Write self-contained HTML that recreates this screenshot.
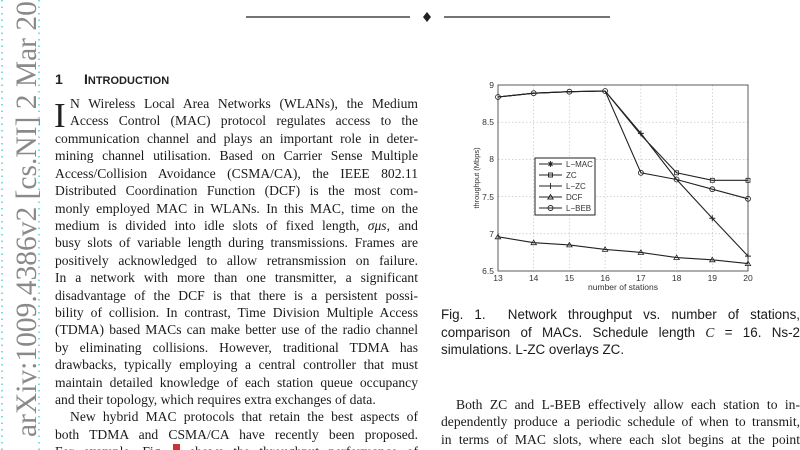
<!DOCTYPE html>
<html><head><meta charset="utf-8"><style>
html,body{margin:0;padding:0;background:#fff;width:800px;height:450px;overflow:hidden;position:relative}
.t{position:absolute;font-family:"Liberation Serif",serif;font-size:13.6px;color:#1a1a1a;white-space:nowrap;text-align:justify;text-align-last:justify}
.l{left:55px;width:363px}
.r{left:441px;width:359px}
.c{position:absolute;font-family:"Liberation Sans",sans-serif;font-size:13.4px;color:#1a1a1a;white-space:nowrap;left:441px;width:359px;text-align:justify;text-align-last:justify}
</style></head><body>
<svg width="800" height="450" style="position:absolute;left:0;top:0">
<line x1="2" y1="0" x2="2" y2="450" stroke="#4cd3dd" stroke-width="1.5" stroke-dasharray="1.5,5"/>
<line x1="39" y1="0" x2="39" y2="450" stroke="#4cd3dd" stroke-width="1.5" stroke-dasharray="1.5,5"/>
<text transform="translate(36,437) rotate(-90)" font-family="Liberation Serif,serif" font-size="29.5" fill="#8a8a8a">arXiv:1009.4386v2  [cs.NI]  2 Mar 2010</text>
<line x1="246" y1="17" x2="410" y2="17" stroke="#222" stroke-width="1.3"/>
<path d="M427 12 L431 17 L427 22 L423 17Z" fill="#222"/>
<line x1="444" y1="17" x2="610" y2="17" stroke="#222" stroke-width="1.3"/>
<text x="55" y="84" font-family="Liberation Sans,sans-serif" font-weight="bold" font-size="14" fill="#222">1</text>
<text x="84" y="84" font-family="Liberation Sans,sans-serif" font-weight="bold" font-size="14" fill="#222">I<tspan font-size="11">NTRODUCTION</tspan></text>
<text x="54" y="127" font-family="Liberation Serif,serif" font-size="35" fill="#222">I</text>
</svg>
<div class="t" style="left:70px;width:348px;top:96px">N Wireless Local Area Networks (WLANs), the Medium</div>
<div class="t" style="left:70px;width:348px;top:113px">Access Control (MAC) protocol regulates access to the</div>
<div class="t l" style="top:131px">communication channel and plays an important role in deter-</div>
<div class="t l" style="top:148px">mining channel utilisation. Based on Carrier Sense Multiple</div>
<div class="t l" style="top:166px">Access/Collision Avoidance (CSMA/CA), the IEEE 802.11</div>
<div class="t l" style="top:183px">Distributed Coordination Function (DCF) is the most com-</div>
<div class="t l" style="top:201px">monly employed MAC in WLANs. In this MAC, time on the</div>
<div class="t l" style="top:218px">medium is divided into idle slots of fixed length, <i>σμs</i>, and</div>
<div class="t l" style="top:235px">busy slots of variable length during transmissions. Frames are</div>
<div class="t l" style="top:253px">positively acknowledged to allow retransmission on failure.</div>
<div class="t l" style="top:270px">In a network with more than one transmitter, a significant</div>
<div class="t l" style="top:288px">disadvantage of the DCF is that there is a persistent possi-</div>
<div class="t l" style="top:305px">bility of collision. In contrast, Time Division Multiple Access</div>
<div class="t l" style="top:322px">(TDMA) based MACs can make better use of the radio channel</div>
<div class="t l" style="top:340px">by eliminating collisions. However, traditional TDMA has</div>
<div class="t l" style="top:357px">drawbacks, typically employing a central controller that must</div>
<div class="t l" style="top:375px">maintain detailed knowledge of each station queue occupancy</div>
<div class="t" style="left:55px;top:392px;text-align-last:auto">and their topology, which requires extra exchanges of data.</div>
<div class="t" style="left:70px;width:348px;top:409px">New hybrid MAC protocols that retain the best aspects of</div>
<div class="t l" style="top:427px">both TDMA and CSMA/CA have recently been proposed.</div>
<div class="t l" style="top:444px">For example, Fig. <span style="background:#c33;color:#c33">1</span> shows the throughput performance of</div>

<div class="c" style="top:307px">Fig. 1.&nbsp; Network throughput vs. number of stations,</div>
<div class="c" style="top:325px">comparison of MACs. Schedule length <i style="font-family:'Liberation Serif',serif">C</i> = 16. Ns-2</div>
<div class="c" style="top:342px;text-align-last:auto">simulations. L-ZC overlays ZC.</div>
<div class="t" style="left:456px;width:344px;top:397px">Both ZC and L-BEB effectively allow each station to in-</div>
<div class="t r" style="top:414px">dependently produce a periodic schedule of when to transmit,</div>
<div class="t r" style="top:432px">in terms of MAC slots, where each slot begins at the point</div>

<svg width="800" height="450" style="position:absolute;left:0;top:0" font-family="Liberation Sans,sans-serif" font-size="8.5" fill="#333">
<g stroke="#bbb" stroke-width="0.6" stroke-dasharray="1.5,2">
<line x1="533.7" y1="85" x2="533.7" y2="271"/><line x1="569.4" y1="85" x2="569.4" y2="271"/><line x1="605.1" y1="85" x2="605.1" y2="271"/><line x1="640.9" y1="85" x2="640.9" y2="271"/><line x1="676.6" y1="85" x2="676.6" y2="271"/><line x1="712.3" y1="85" x2="712.3" y2="271"/>
<line x1="498" y1="122.2" x2="748" y2="122.2"/><line x1="498" y1="159.4" x2="748" y2="159.4"/><line x1="498" y1="196.6" x2="748" y2="196.6"/><line x1="498" y1="233.8" x2="748" y2="233.8"/>
</g>
<rect x="498" y="85" width="250" height="186" fill="none" stroke="#333" stroke-width="0.8"/>
<g text-anchor="end"><text x="494" y="88">9</text><text x="494" y="125">8.5</text><text x="494" y="162">8</text><text x="494" y="200">7.5</text><text x="494" y="237">7</text><text x="494" y="274">6.5</text></g>
<g text-anchor="middle"><text x="498" y="281">13</text><text x="533.7" y="281">14</text><text x="569.4" y="281">15</text><text x="605.1" y="281">16</text><text x="640.9" y="281">17</text><text x="676.6" y="281">18</text><text x="712.3" y="281">19</text><text x="748" y="281">20</text>
<text x="623" y="290">number of stations</text>
<text transform="translate(479,178) rotate(-90)" font-size="7.5">throughput (Mbps)</text></g>
<g fill="none" stroke="#222" stroke-width="1.1">
<polyline points="498,97 533.7,93.2 569.4,91.7 605.1,91 640.9,133.4 676.6,179.5 712.3,218.2 748,256.1"/>
<polyline points="498,97 533.7,93.2 569.4,91.7 605.1,91 640.9,134.9 676.6,172.8 712.3,180.3 748,180.3"/>
<polyline points="498,236.8 533.7,242.7 569.4,244.9 605.1,249.4 640.9,252.4 676.6,257.6 712.3,259.8 748,263.6"/>
<polyline points="498,97 533.7,93.2 569.4,91.7 605.1,91 640.9,172.8 676.6,179.5 712.3,189.2 748,198.8"/>
<g stroke-width="0.8">
<rect x="674.6" y="170.8" width="4" height="4"/><rect x="710.3" y="178.3" width="4" height="4"/><rect x="746" y="178.3" width="4" height="4"/>
<circle cx="640.9" cy="172.8" r="2.5"/><circle cx="676.6" cy="179.5" r="2.5"/><circle cx="712.3" cy="189.2" r="2.5"/><circle cx="748" cy="198.8" r="2.5"/><circle cx="498" cy="97" r="2.5"/><circle cx="533.7" cy="93.2" r="2.5"/><circle cx="569.4" cy="91.7" r="2.5"/><circle cx="605.1" cy="91" r="2.5"/>
<path d="M498 234.3l2.7 4.5h-5.4z M533.7 240.2l2.7 4.5h-5.4z M569.4 242.4l2.7 4.5h-5.4z M605.1 246.9l2.7 4.5h-5.4z M640.9 249.9l2.7 4.5h-5.4z M676.6 255.1l2.7 4.5h-5.4z M712.3 257.3l2.7 4.5h-5.4z M748 261.1l2.7 4.5h-5.4z"/>
<path d="M712.3 215.2v6M709.3 218.2h6M748 253.1v6M745 256.1h6M640.9 130.4v6M637.9 133.4h6" stroke-width="1"/>
</g></g>
<rect x="535" y="158" width="60" height="57" fill="#fff" stroke="#222" stroke-width="1"/>
<g stroke="#222" fill="none" stroke-width="0.9">
<line x1="539" y1="164" x2="562" y2="164"/><line x1="539" y1="175" x2="562" y2="175"/><line x1="539" y1="186" x2="562" y2="186"/><line x1="539" y1="197" x2="562" y2="197"/><line x1="539" y1="208" x2="562" y2="208"/>
<path d="M550.5 161v6M547.5 164h6M548.5 162l4 4M552.5 162l-4 4"/><rect x="548.5" y="173" width="4" height="4"/><path d="M550.5 183v6M547.5 186h6"/><path d="M550.5 194.5l2.7 4.5h-5.4z"/><circle cx="550.5" cy="208" r="2.5"/>
</g>
<g font-size="8"><text x="566" y="167">L−MAC</text><text x="566" y="178">ZC</text><text x="566" y="189">L−ZC</text><text x="566" y="200">DCF</text><text x="566" y="211">L−BEB</text></g>
</svg>
</body></html>
